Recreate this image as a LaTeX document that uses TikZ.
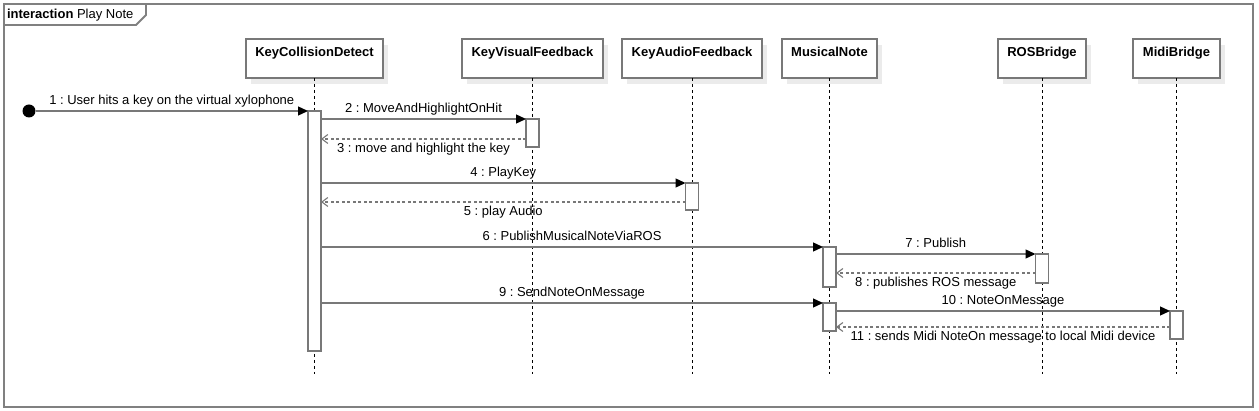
\documentclass[tikz,border=0pt]{standalone}
\usepackage{fontspec}
\setmainfont{Liberation Sans}
\usetikzlibrary{arrows.meta,shadows}
\definecolor{linegray}{RGB}{120,120,120}
\definecolor{framegray}{RGB}{128,128,128}
\frenchspacing
\begin{document}
\begin{tikzpicture}[x=1pt,y=-1pt,
  every node/.style={font=\fontsize{13}{15}\selectfont, inner sep=0pt, outer sep=0pt},
  frame/.style={draw=framegray, line width=1.8pt},
  head/.style={draw=linegray, line width=1.3pt, fill=white, minimum height=39pt, anchor=north,
    drop shadow={shadow xshift=5pt, shadow yshift=-6pt, fill=black!8, opacity=1}},
  hlab/.style={anchor=base, font=\fontsize{13}{15}\selectfont\bfseries},
  life/.style={draw=black, line width=0.9pt, dash pattern=on 3pt off 3pt},
  act/.style={draw=linegray, line width=1.3pt, fill=white, minimum width=13pt, anchor=north},
  msg/.style={draw=linegray, line width=1.3pt, -{Triangle[length=10pt,width=9pt,color=black]}},
  ret/.style={draw=linegray, line width=1.1pt, dash pattern=on 3pt off 2.5pt, -{Straight Barb[length=6pt,width=9pt]}},
  abv/.style={anchor=base, yshift=6pt},
  blw/.style={anchor=base, yshift=-14pt}]
\useasboundingbox (0,0) rectangle (1259,411);
% frame
\draw[frame] (4,4) rectangle (1253,407);
\draw[frame] (4,25) -- (136,25) -- (146,15) -- (146,4);
\node[anchor=base west] (title) at (7,18.5) {\textbf{interaction} Play Note};
% heads
\node[head, minimum width=137pt] (kcd) at (314.5,39) {};
\node[head, minimum width=141pt] (kvf) at (532.5,39) {};
\node[head, minimum width=140pt] (kaf) at (692,39) {};
\node[head, minimum width=95pt] (mn) at (829.5,39) {};
\node[head, minimum width=88pt] (ros) at (1042,39) {};
\node[head, minimum width=87pt] (midi) at (1176.5,39) {};
\node[hlab] (t1) at ([yshift=-17.5pt]kcd.north) {KeyCollisionDetect};
\node[hlab] (t2) at ([yshift=-17.5pt]kvf.north) {KeyVisualFeedback};
\node[hlab] (t3) at ([yshift=-17.5pt]kaf.north) {KeyAudioFeedback};
\node[hlab] (t4) at ([yshift=-17.5pt]mn.north) {MusicalNote};
\node[hlab] (t5) at ([yshift=-17.5pt]ros.north) {ROSBridge};
\node[hlab] (t6) at ([yshift=-17.5pt]midi.north) {MidiBridge};
% lifelines
\coordinate (bot) at (0,374);
\foreach \h in {kcd,kvf,kaf,mn,ros,midi}
  \draw[life] (\h.south) -- (\h.south |- bot);
% activations
\node[act, minimum height=240pt] (a1) at (kcd.south |- 0,111) {};
\node[act, minimum height=28pt] (a2) at (kvf.south |- 0,119) {};
\node[act, minimum height=27pt] (a3) at (kaf.south |- 0,183) {};
\node[act, minimum height=40pt] (a4) at (mn.south |- 0,247) {};
\node[act, minimum height=29pt] (a5) at (ros.south |- 0,254) {};
\node[act, minimum height=28pt] (a6) at (mn.south |- 0,303) {};
\node[act, minimum height=28pt] (a7) at (midi.south |- 0,311) {};
% start dot
\node[circle, fill=black, minimum size=13pt] (start) at (29,111) {};
% messages
\draw[msg] (start.east) -- node[abv] {1 : User hits a key on the virtual xylophone} (a1.north west);
\draw[msg] (a1.east |- a2.north) -- node[abv] {2 : MoveAndHighlightOnHit} (a2.north west);
\draw[ret] ([yshift=8pt]a2.south west) -- node[blw] {3 : move and highlight the key} ([yshift=8pt]a2.south west -| a1.east);
\draw[msg] (a1.east |- a3.north) -- node[abv] {4 : PlayKey} (a3.north west);
\draw[ret] ([yshift=8pt]a3.south west) -- node[blw] {5 : play Audio} ([yshift=8pt]a3.south west -| a1.east);
\draw[msg] (a1.east |- a4.north) -- node[abv] {6 : PublishMusicalNoteViaROS} (a4.north west);
\draw[msg] (a4.east |- a5.north) -- node[abv] {7 : Publish} (a5.north west);
\draw[ret] ([yshift=10pt]a5.south west) -- node[blw] {8 : publishes ROS message} ([yshift=10pt]a5.south west -| a4.east);
\draw[msg] (a1.east |- a6.north) -- node[abv] {9 : SendNoteOnMessage} (a6.north west);
\draw[msg] (a6.east |- a7.north) -- node[abv] {10 : NoteOnMessage} (a7.north west);
\draw[ret] ([yshift=12pt]a7.south west) -- node[blw] {11 : sends Midi NoteOn message to local Midi device} ([yshift=12pt]a7.south west -| a6.east);
\end{tikzpicture}
\end{document}
